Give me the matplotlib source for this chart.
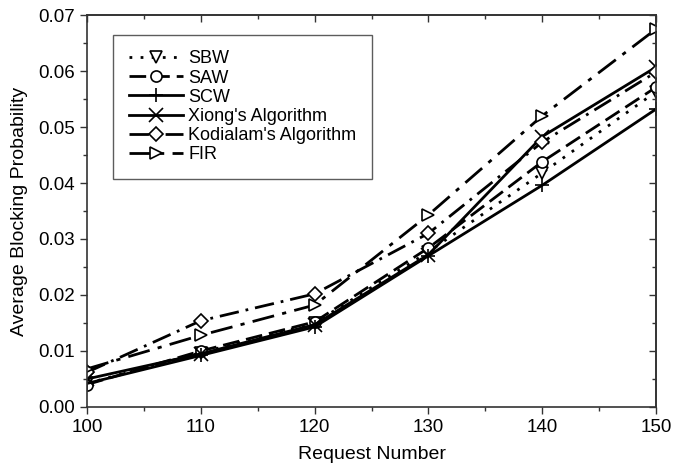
import matplotlib
matplotlib.use("Agg")
import matplotlib.pyplot as plt
from matplotlib.ticker import MultipleLocator, NullFormatter

plt.rcParams['font.family'] = ['Liberation Sans', 'DejaVu Sans']

requests = [100, 110, 120, 130, 140, 150]

sbw = [0.0042, 0.0097, 0.0150, 0.0277, 0.0418, 0.0563]
saw = [0.0040, 0.0100, 0.0152, 0.0284, 0.0438, 0.0571]
scw = [0.0042, 0.0092, 0.0143, 0.0270, 0.0396, 0.0532]
xiong = [0.0050, 0.0095, 0.0147, 0.0272, 0.0483, 0.0607]
kodialam = [0.0062, 0.0154, 0.0202, 0.0310, 0.0473, 0.0598]
fir = [0.0068, 0.0128, 0.0182, 0.0343, 0.0520, 0.0675]

series = [
    ("SBW", sbw, 'v', (0, (1, 3))),
    ("SAW", saw, 'o', (0, (6, 2.5))),
    ("SCW", scw, '+', '-'),
    ("Xiong's Algorithm", xiong, 'x', '-'),
    ("Kodialam's Algorithm", kodialam, 'D', (0, (7, 2.5, 1, 2.5))),
    ("FIR", fir, '>', (0, (8, 3, 1.5, 3))),
]

fig = plt.figure(figsize=(6.88, 4.71), dpi=100)
ax = fig.add_axes([0.1265, 0.136, 0.827, 0.832])

for name, vals, mk, ls in series:
    ms = 7 if mk == 'D' else 8
    if mk in ('+', 'x'):
        ms = 10
    ax.plot(requests, vals, color='black', linestyle=ls, linewidth=2.0,
            marker=mk, markersize=ms, markerfacecolor='white',
            markeredgecolor='black', markeredgewidth=1.2, label=name)

ax.set_xlim(100, 150)
ax.set_ylim(0, 0.07)
ax.xaxis.set_major_locator(MultipleLocator(10))
ax.xaxis.set_minor_locator(MultipleLocator(5))
ax.yaxis.set_major_locator(MultipleLocator(0.01))
ax.yaxis.set_minor_locator(MultipleLocator(0.005))
ax.yaxis.set_major_formatter(plt.FormatStrFormatter('%.2f'))

ax.tick_params(which='major', length=5, width=1, labelsize=13.5, color='#333333', pad=4)
ax.tick_params(which='minor', length=3, width=1, color='#333333')
for side in ['top', 'right', 'bottom', 'left']:
    ax.spines[side].set_linewidth(1.2)
    ax.spines[side].set_color('#333333')

# mirrored ticks pointing inward on top and right
top = ax.secondary_xaxis('top')
top.xaxis.set_major_locator(MultipleLocator(10))
top.xaxis.set_minor_locator(MultipleLocator(5))
top.xaxis.set_major_formatter(NullFormatter())
top.tick_params(which='major', direction='in', length=5, width=1, color='#333333')
top.tick_params(which='minor', direction='in', length=3, width=1, color='#333333')
right = ax.secondary_yaxis('right')
right.yaxis.set_major_locator(MultipleLocator(0.01))
right.yaxis.set_minor_locator(MultipleLocator(0.005))
right.yaxis.set_major_formatter(NullFormatter())
right.tick_params(which='major', direction='in', length=5, width=1, color='#333333')
right.tick_params(which='minor', direction='in', length=3, width=1, color='#333333')
for sa in (top, right):
    for s in sa.spines.values():
        s.set_linewidth(1.2)
        s.set_color('#333333')

ax.set_xlabel("Request Number", fontsize=14, labelpad=7)
ax.set_ylabel("Average Blocking Probability", fontsize=14, labelpad=7)

leg = ax.legend(loc='upper left', bbox_to_anchor=(0.046, 0.949), fontsize=13,
                frameon=True, fancybox=False, edgecolor='#333333',
                handlelength=3.0, handletextpad=0.3, labelspacing=0.12,
                borderpad=0.85, borderaxespad=0)
leg.get_frame().set_linewidth(1.0)

fig.savefig("out.png", dpi=100)
